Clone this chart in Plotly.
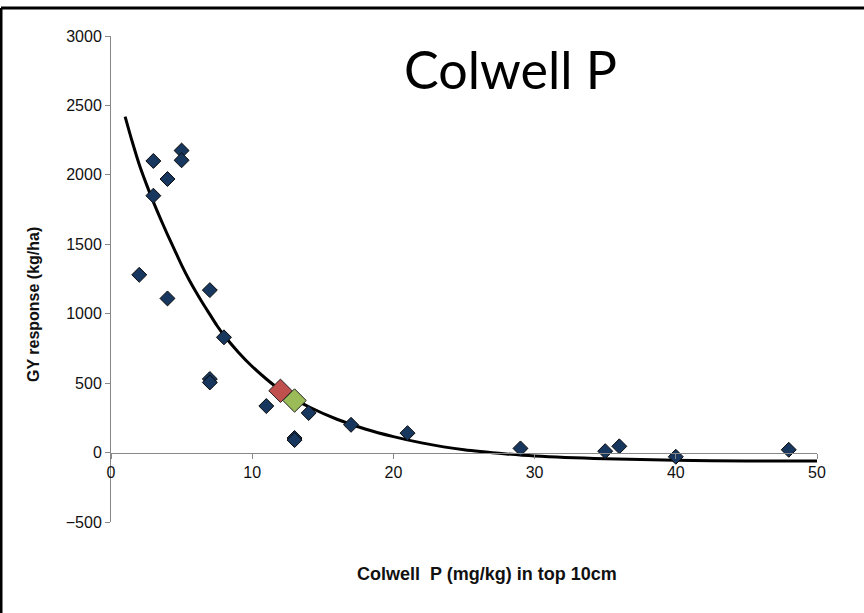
import plotly.graph_objects as go

# Observed data points (Colwell P, GY response)
colwell_p = [2, 3, 3, 4, 4, 5, 5, 7, 7, 7, 8, 11, 13, 13, 14, 17, 21, 29, 35, 36, 40, 48]
gy_response = [1280, 2100, 1850, 1970, 1110, 2175, 2105, 1170, 530, 505, 830, 335, 105, 90, 285, 200, 140, 30, 10, 45, -30, 20]

# Highlighted points
red_x = [12]
red_y = [445]
green_x = [13]
green_y = [375]

# Fitted trend curve
curve_x = [1, 1.5, 2, 2.5, 3, 3.5, 4, 4.5, 5, 5.5, 6, 6.5, 7, 7.5, 8, 9, 10, 11, 12, 13, 14, 16, 18, 20, 22, 25, 28, 30, 35, 40, 45, 50]
curve_y = [2420, 2240, 2075, 1935, 1805, 1685, 1570, 1460, 1350, 1250, 1160, 1075, 995, 915, 845, 725, 620, 530, 450, 385, 330, 240, 170, 115, 70, 20, -10, -25, -45, -55, -60, -60]

x_ticks = [0, 10, 20, 30, 40, 50]
y_ticks = [-500, 0, 500, 1000, 1500, 2000, 2500, 3000]

W, H = 864, 613
ML, MR, MT, MB = 111, 47, 36, 91
PW, PH = W - ML - MR, H - MT - MB

def px_x(p):
    return (p - ML) / PW

def px_y(p):
    return (H - MB - p) / PH

fig = go.Figure()

fig.add_trace(go.Scatter(
    x=curve_x, y=curve_y, mode="lines", line=dict(color="black", width=3, shape="spline", smoothing=0.8),
    hoverinfo="skip", showlegend=False))

fig.add_trace(go.Scatter(
    x=colwell_p, y=gy_response, mode="markers",
    marker=dict(symbol="diamond", size=11.5, color="#17375E", line=dict(color="#0a0a0a", width=1)),
    showlegend=False))

fig.add_trace(go.Scatter(
    x=red_x, y=red_y, mode="markers",
    marker=dict(symbol="diamond", size=18, color="#C0504D", line=dict(color="#222", width=1)),
    showlegend=False))

fig.add_trace(go.Scatter(
    x=green_x, y=green_y, mode="markers",
    marker=dict(symbol="diamond", size=18, color="#9BBB59", line=dict(color="#222", width=1)),
    showlegend=False))

yr = [-500, 3000]
fig.update_layout(
    width=W, height=H,
    margin=dict(l=ML, r=MR, t=MT, b=MB),
    paper_bgcolor="white", plot_bgcolor="white",
    font=dict(family="Liberation Sans, Arial, sans-serif", size=13, color="#111"),
    xaxis=dict(range=[0, 50], tickvals=x_ticks, showgrid=False, zeroline=False,
               showline=True, linecolor="#888", linewidth=1,
               ticks="outside", ticklen=5, tickcolor="#888",
               anchor="free", position=(0 - yr[0]) / (yr[1] - yr[0]),
               tickfont=dict(size=16), automargin=False),
    yaxis=dict(range=yr, tickvals=y_ticks, showgrid=False, zeroline=False,
               showline=True, linecolor="#888", linewidth=1,
               ticks="outside", ticklen=5, tickcolor="#888",
               tickfont=dict(size=16), automargin=False),
    annotations=[
        dict(text="Colwell P", x=px_x(510), y=px_y(69), xref="paper", yref="paper",
             showarrow=False, font=dict(family="Lato, Open Sans, sans-serif", size=52, color="black"),
             xanchor="center", yanchor="middle"),
        dict(text="<b>GY response (kg/ha)</b>", x=px_x(33), y=px_y(305), xref="paper", yref="paper",
             showarrow=False, textangle=-90, font=dict(size=16, color="#111"),
             xanchor="center", yanchor="middle"),
        dict(text="<b>Colwell  P (mg/kg) in top 10cm</b>", x=px_x(487), y=px_y(574), xref="paper", yref="paper",
             showarrow=False, font=dict(size=18, color="#111"),
             xanchor="center", yanchor="middle"),
    ],
    shapes=[
        dict(type="line", xref="paper", yref="paper", x0=px_x(1), x1=px_x(864), y0=px_y(8), y1=px_y(8),
             line=dict(color="black", width=3)),
        dict(type="line", xref="paper", yref="paper", x0=px_x(1), x1=px_x(1), y0=px_y(8), y1=px_y(613),
             line=dict(color="black", width=3)),
    ],
)

fig.write_html("out.html")
